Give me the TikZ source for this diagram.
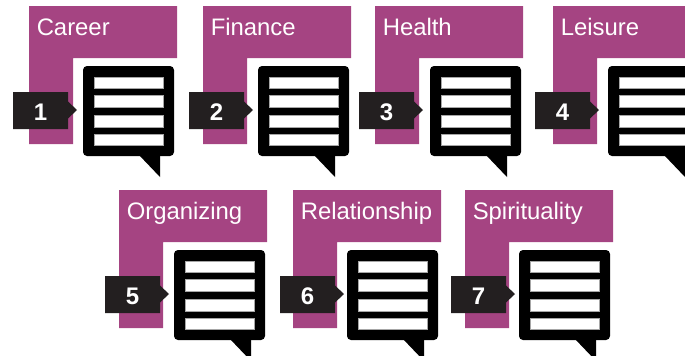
\documentclass[tikz,border=0pt]{standalone}
\usepackage{fontspec}
\setmainfont{Liberation Sans}
\definecolor{topicpurple}{HTML}{A54482}
\definecolor{tagdark}{HTML}{231F20}
\tikzset{
	titletext/.style={text=white, font=\fontsize{17.9pt}{20pt}\selectfont, anchor=base west, inner sep=0},
	numbertext/.style={text=white, font=\fontsize{18pt}{20pt}\selectfont\bfseries, inner sep=0},
	notebar/.style={fill=white, draw=black!35, line width=0.15pt}
}
% #1,#2 corner of purple, #3 tag left, #4 note left, #5 title, #6 number
\def\topicbox(#1,#2)(#3)(#4)#5#6{
	\fill[topicpurple] (#1, #2) -- ++(148, 0) -- ++(0, 52) -- ++(-104, 0) -- ++(0, 86) -- ++(-44, 0) -- cycle;
	\node[titletext] (title#6) at (#1+7.5, #2+29) {#5};
	\fill[black, rounded corners=3] (#4, #2+60) rectangle (#4+91, #2+150);
	\fill[black] (#4+56, #2+149) -- ++(21, 0) -- ++(0, 22) -- cycle;
	\draw[notebar] (#4+11, #2+71) rectangle (#4+80, #2+82);
	\draw[notebar] (#4+11, #2+89.5) rectangle (#4+80, #2+101.5);
	\draw[notebar] (#4+11, #2+109) rectangle (#4+80, #2+121);
	\draw[notebar] (#4+11, #2+128) rectangle (#4+80, #2+139);
	\fill[tagdark] (#3, #2+86) -- ++(55, 0) -- ++(0, 9.5) -- ++(9, 8.5) -- ++(-9, 8.5) -- ++(0, 10.5) -- ++(-55, 0) -- cycle;
	\node[numbertext] (number#6) at (#3+27.5, #2+106) {#6};
}

\begin{document}
\begin{tikzpicture}[x=0.75pt, y=-0.75pt]
	%%%%% START %%%%%
	
	\useasboundingbox (0, 0) rectangle (685, 355);
	\clip (0, 0) rectangle (685, 355);
	
	\topicbox(29, 6)(13)(83){Career}{1}
	\topicbox(203, 6)(189)(258){Finance}{2}
	\topicbox(375, 6)(359)(430){Health}{3}
	\topicbox(553, 6)(535)(608){Leisure}{4}
	
	\topicbox(119, 190)(105)(174){Organizing}{5}
	\topicbox(293, 190)(280)(347){Relationship}{6}
	\topicbox(465, 190)(451)(519){Spirituality}{7}
	
	%%%%% END %%%%%
\end{tikzpicture}
\end{document}
